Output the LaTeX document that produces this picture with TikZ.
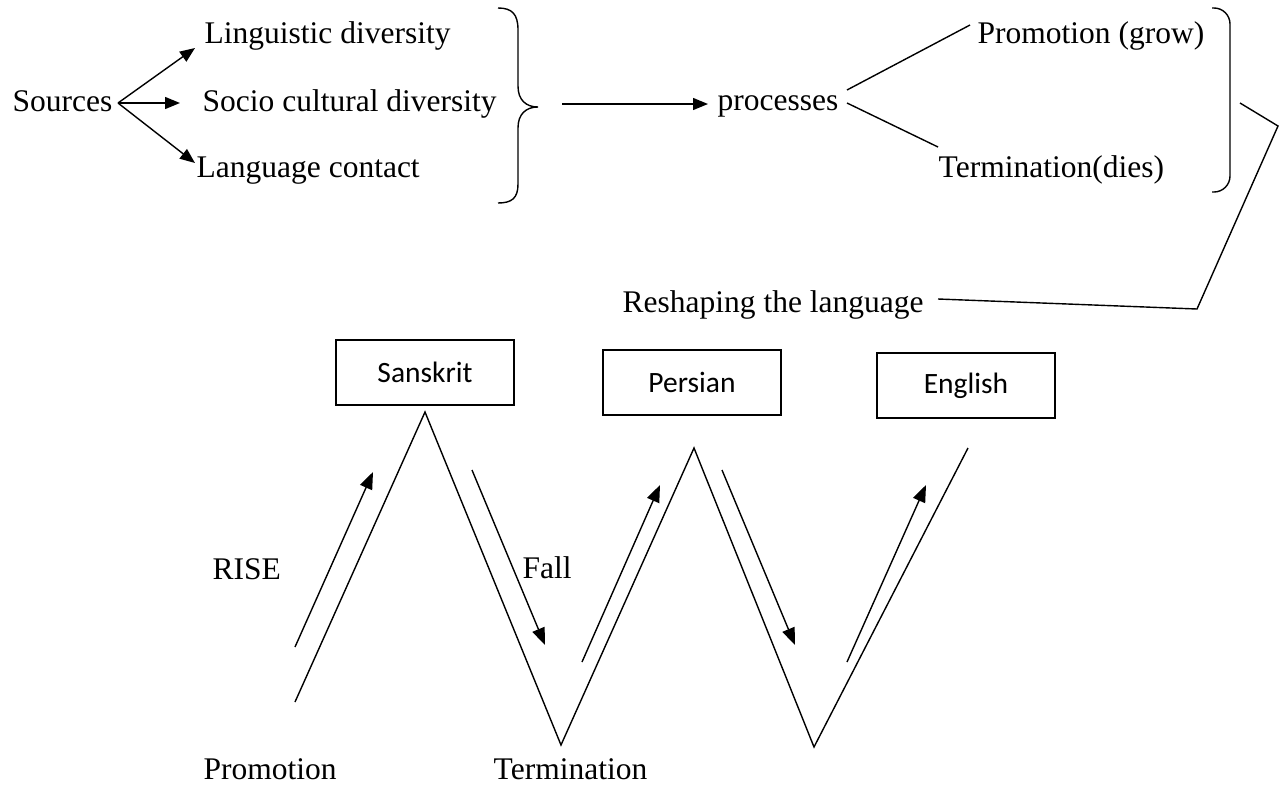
\documentclass[tikz,border=0pt]{standalone}
\usepackage{fontspec}
\setmainfont{Liberation Serif}
\newfontfamily\boxfont{Carlito}
\usetikzlibrary{arrows.meta}
\begin{document}
\begin{tikzpicture}[x=1pt,y=-1pt,line width=1.4pt,
  lbl/.style={inner sep=0pt,anchor=base west,font=\fontsize{31.5}{36}\selectfont},
  langbox/.style={draw,line width=1.7pt,minimum width=178pt,minimum height=65pt,inner sep=0pt,font=\boxfont\fontsize{29.5}{34}\selectfont},
  arr/.style={-{Triangle[length=15pt,width=12pt]}},
  bigarr/.style={-{Triangle[length=17pt,width=13pt]}},
  conn/.style={line width=1.4pt}]
\useasboundingbox (0,0) rectangle (1288,785);
% top texts
\node[lbl] (src) at (12,111) {Sources};
\node[lbl] (ling) at (204,43) {Linguistic diversity};
\node[lbl] (socio) at (202,111) {Socio cultural diversity};
\node[lbl] (lang) at (196,177) {Language contact};
\node[lbl] (proc) at (717,110) {processes};
\node[lbl] (prom) at (977,43) {Promotion (grow)};
\node[lbl] (term) at (938,177) {Termination(dies)};
\node[lbl] (resh) at (622,312) {Reshaping the language};
% bottom texts
\node[lbl] (rise) at (212,579) {RISE};
\node[lbl] (fall) at (522,578) {Fall};
\node[lbl] (promb) at (203,779) {Promotion};
\node[lbl] (termb) at (493,779) {Termination};
% boxes
\node[langbox] (sans) at (425,372.5) {Sanskrit};
\node[langbox] (pers) at (692,382.5) {Persian};
\node[langbox] (eng) at (966,385.5) {English};
% coordinates
\coordinate (fork) at (118,103);
\coordinate (t1) at (195,48);
\coordinate (t2) at (180,103);
\coordinate (t3) at (195,163);
\coordinate (pa) at (562,104);
\coordinate (pb) at (708,104);
\coordinate (pf1) at (847,90);
\coordinate (pe1) at (970,25);
\coordinate (pf2) at (847,103);
\coordinate (pe2) at (938,147);
\coordinate (g1) at (1240,103);
\coordinate (g2) at (1278,126);
\coordinate (g3) at (1197,309);
\coordinate (g4) at (938,299);
\coordinate (z0) at (295,702);
\coordinate (z1) at (425,412);
\coordinate (z2) at (561,745);
\coordinate (z3) at (694,448);
\coordinate (z4) at (814,747);
\coordinate (z5) at (968,448);
\coordinate (a1s) at (295,647);
\coordinate (a1e) at (373,472);
\coordinate (a2s) at (472,470);
\coordinate (a2e) at (545,645);
\coordinate (a3s) at (582,662);
\coordinate (a3e) at (660,485);
\coordinate (a4s) at (722,470);
\coordinate (a4e) at (795,645);
\coordinate (a5s) at (847,662);
\coordinate (a5e) at (926,485);
% top arrows
\draw[conn,arr] (fork) -- (t1);
\draw[conn,arr] (fork) -- (t2);
\draw[conn,arr] (fork) -- (t3);
\draw[conn,arr] (pa) -- (pb);
\draw[conn] (pf1) -- (pe1);
\draw[conn] (pf2) -- (pe2);
% brace
\draw[conn] (498,8) .. controls (512,8) and (518,14) .. (518,30) -- (518,86)
  .. controls (518,100) and (526,107) .. (538,107)
  .. controls (526,107) and (518,114) .. (518,128) -- (518,184)
  .. controls (518,198) and (512,203) .. (498,203);
% right bracket
\draw[conn,rounded corners=16pt] (1212,8) -- (1230,8) -- (1230,192) -- (1212,192);
% angle to reshaping
\draw[conn] (g1) -- (g2) -- (g3) -- (g4);
% zigzag
\draw[conn] (z0) -- (z1) -- (z2) -- (z3) -- (z4) -- (z5);
\draw[conn,bigarr] (a1s) -- (a1e);
\draw[conn,bigarr] (a2s) -- (a2e);
\draw[conn,bigarr] (a3s) -- (a3e);
\draw[conn,bigarr] (a4s) -- (a4e);
\draw[conn,bigarr] (a5s) -- (a5e);
\end{tikzpicture}
\end{document}
